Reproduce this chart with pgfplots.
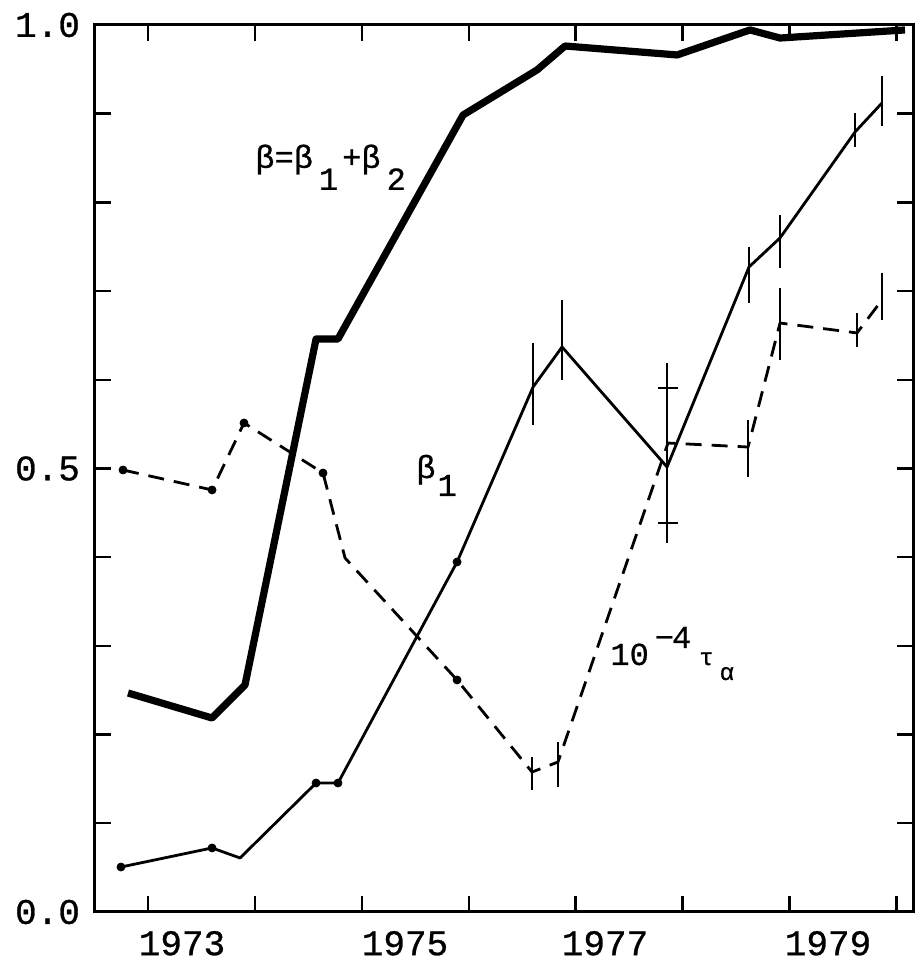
\documentclass[border=0pt]{standalone}
\usepackage{fontspec}
\usepackage{pgfplots}
\pgfplotsset{compat=1.18}
\newfontfamily\tw[FakeBold=0.8]{Liberation Mono}
\begin{document}
\begin{tikzpicture}
\begin{axis}[
 scale only axis, width=409pt, height=443.5pt,
 xmin=1972.504, xmax=1980.156, ymin=0, ymax=1,
 axis line style={line width=1.5pt},
 tick align=inside, major tick length=8pt,
 tick style={line width=1.2pt, black},
 xtick={1973,1974,1975,1976,1977,1978,1979,1980}, xticklabels={},
 extra x ticks={1973.318,1975.404,1977.275,1979.361},
 extra x tick labels={1973,1975,1977,1979},
 extra x tick style={major tick length=0pt, xticklabel style={yshift=-6pt}},
 ytick={0,0.1,0.2,0.3,0.4,0.5,0.6,0.7,0.8,0.9,1.0},
 yticklabels={0.0,,,,,0.5,,,,,1.0},
 ticklabel style={font=\tw\fontsize{18}{21}\selectfont},
 yticklabel style={xshift=-4pt},
 clip=false,
]
% beta = beta1 + beta2 (thick)
\addplot[line width=3.6pt, line join=round] coordinates {
(1972.813,0.2469) (1973.599,0.2187) (1973.907,0.2559) (1974.572,0.646) (1974.777,0.646)
(1975.947,0.8985) (1976.639,0.9493) (1976.901,0.9763) (1977.949,0.9662) (1978.631,0.9944)
(1978.912,0.9853) (1980.081,0.9944)
};
% beta1 (thin solid)
\addplot[line width=1.4pt, line join=round, mark=none,
 error bars/.cd, y dir=both, y explicit, error mark=none,
 error bar style={line width=1.4pt}] coordinates {
(1972.747,0.0507) (1973.599,0.0722) (1973.861,0.0609) (1974.572,0.1454) (1974.777,0.1454)
(1975.891,0.3946)
(1976.602,0.5919) += (0,0.0496) -= (0,0.0428)
(1976.873,0.637) += (0,0.053) -= (0,0.0372)
(1977.855,0.5017) += (0,0.1172) -= (0,0.0857)
(1978.622,0.7272) += (0,0.0225) -= (0,0.0406)
(1978.912,0.7599) += (0,0.026) -= (0,0.034)
(1979.614,0.8794) += (0,0.0214) -= (0,0.0169)
(1979.866,0.9121) += (0,0.0304) -= (0,0.026)
};
\addplot[only marks, mark=*, mark size=2pt] coordinates {
(1972.747,0.0507) (1973.599,0.0722) (1974.572,0.1454) (1974.777,0.1454) (1975.891,0.3946)
};
% 10^-4 tau_alpha (dashed)
\addplot[line width=1.4pt, line join=round, dash pattern=on 8pt off 5pt, mark=none,
 error bars/.cd, y dir=both, y explicit, error mark=none,
 error bar style={solid, line width=1.4pt}] coordinates {
(1972.766,0.4983) (1973.599,0.4758) (1973.898,0.5513) (1974.637,0.4949) (1974.843,0.3991)
(1975.891,0.2616)
(1976.592,0.1578) += (0,0.0169) -= (0,0.0203)
(1976.835,0.1691) += (0,0.0225) -= (0,0.0282)
(1977.864,0.5287)
(1978.613,0.5242) += (0,0.0304) -= (0,0.0338)
(1978.912,0.664) += (0,0.0395) -= (0,0.0417)
(1979.632,0.6528) += (0,0.0225) -= (0,0.0158)
(1979.866,0.69) += (0,0.0304) -= (0,0.0225)
};
\addplot[only marks, mark=*, mark size=2pt] coordinates {
(1972.766,0.4983) (1973.599,0.4758) (1973.898,0.5513) (1974.637,0.4949) (1975.891,0.2616)
};
% cross bars on the large error bar
\addplot[only marks, mark=-, mark size=5pt, mark options={line width=1.4pt}] coordinates {
(1977.864,0.5907) (1977.864,0.4386)
};
\node[anchor=base west, inner sep=0, font=\tw\fontsize{16}{18}\selectfont]
 at (axis cs:1974.001,0.839) {β=β\hspace{3pt}\raisebox{-11pt}{1}\hspace{2pt}+β\hspace{3pt}\raisebox{-11pt}{2}};
\node[anchor=base west, inner sep=0, font=\tw\fontsize{16}{18}\selectfont]
 at (axis cs:1975.507,0.4893) {β\hspace{1pt}\raisebox{-9pt}{1}};
\node[anchor=base west, inner sep=0, font=\tw\fontsize{16}{18}\selectfont]
 at (axis cs:1977.322,0.2785) {10\hspace{2pt}\raisebox{8.5pt}{\hspace{1pt}−\hspace{-1pt}4}\hspace{4pt}{\fontsize{12}{14}\selectfont τ\hspace{3pt}\raisebox{-7.5pt}{α}}};
\coordinate (SW) at (rel axis cs:0,0);
\coordinate (NE) at (rel axis cs:1,1);
\end{axis}
\pgfresetboundingbox
\path ([shift={(-47.5pt,-32.5pt)}]SW) rectangle ([shift={(4.5pt,12.5pt)}]NE);
\end{tikzpicture}
\end{document}
